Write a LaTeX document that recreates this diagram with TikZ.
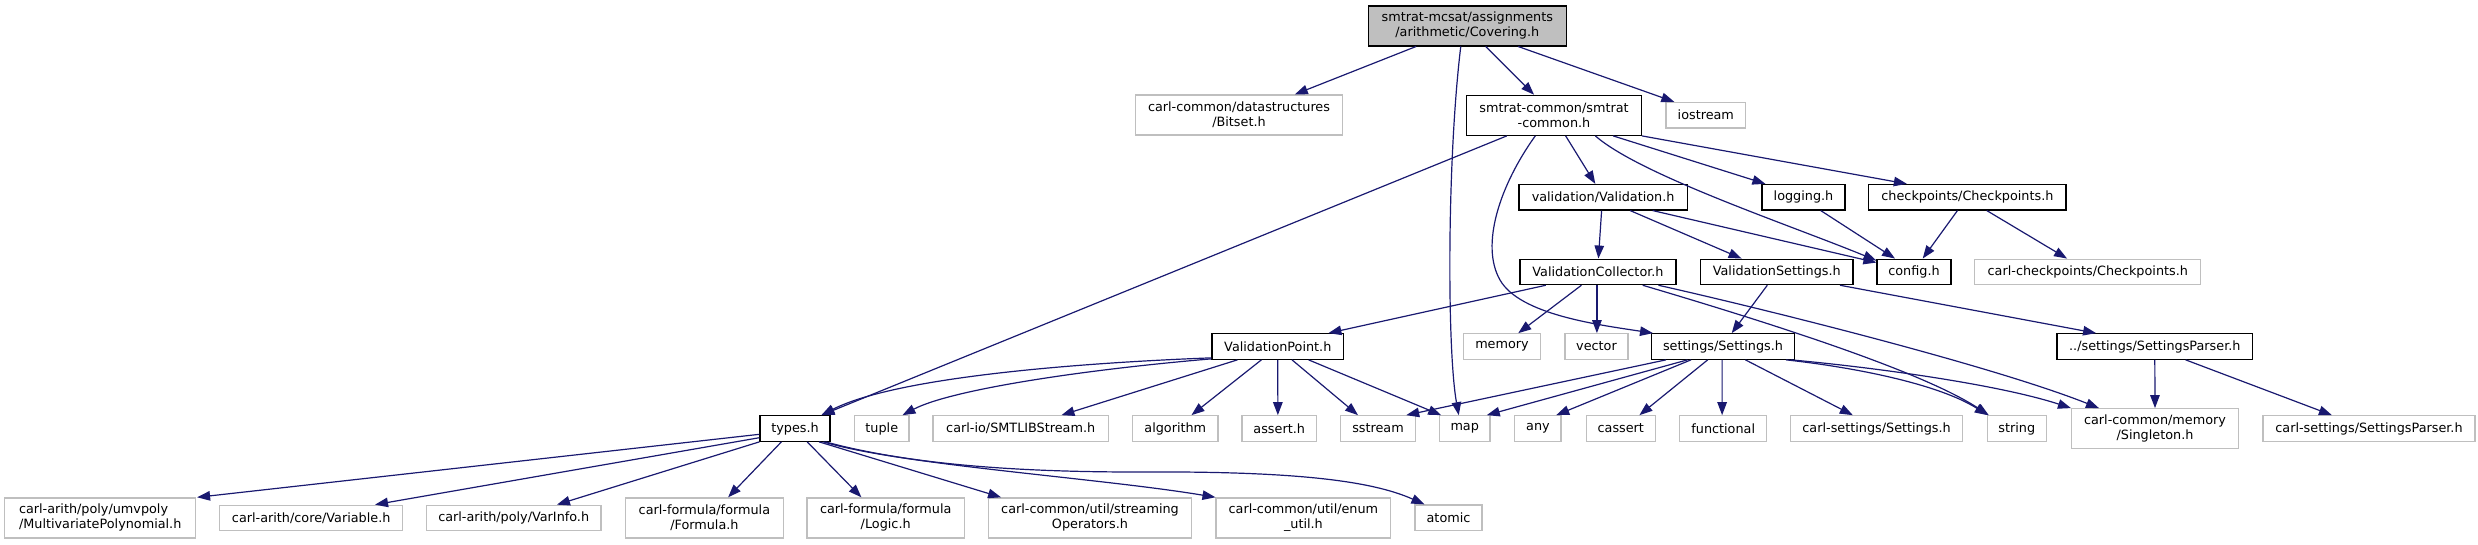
\documentclass[tikz,border=0pt]{standalone}
\usepackage{fontspec}
\newfontfamily\dxfam{DejaVu Sans}
\usetikzlibrary{arrows.meta}
\definecolor{extgray}{HTML}{BFBFBF}
\definecolor{edgeblue}{HTML}{191970}
\tikzset{
  box/.style={draw=black, line width=1.2pt, inner sep=0pt, minimum height=25.5pt, align=center,
    font={\dxfam\fontsize{12.8pt}{15pt}\selectfont}},
  extbox/.style={box, draw=extgray},
  mainbox/.style={box, fill=extgray},
  dbl/.style={minimum height=40pt},
  dep/.style={draw=edgeblue, line width=1.2pt, -{Triangle[length=13pt,width=9.5pt]}},
}
\begin{document}
\begin{tikzpicture}[x=1pt,y=-1pt]
\useasboundingbox (0,0) rectangle (2478,544);
% row 0
\node[mainbox, dbl, minimum width=197.7pt] (cov) at (1467.3,25.9) {smtrat-mcsat/assignments\\/arithmetic/Covering.h};
% row 1
\node[extbox, dbl, minimum width=206.8pt] (bitset) at (1239,115) {carl-common/datastructures\\/Bitset.h};
\node[box, dbl, minimum width=174.7pt] (sc) at (1554,115.3) {smtrat-common/smtrat\\-common.h};
\node[extbox, minimum width=79.8pt] (iostream) at (1705.8,115.2) {iostream};
% row 2
\node[box, minimum width=168.2pt] (val) at (1603.1,197.2) {validation/Validation.h};
\node[box, minimum width=83pt] (logging) at (1803.5,197.2) {logging.h};
\node[box, minimum width=197.3pt] (checkp) at (1967.4,197.2) {checkpoints/Checkpoints.h};
% row 3
\node[box, minimum width=156pt] (vc) at (1598,271.9) {ValidationCollector.h};
\node[box, minimum width=152.4pt] (vs) at (1776.8,271.9) {ValidationSettings.h};
\node[box, minimum width=74pt] (config) at (1914,271.9) {config.h};
\node[extbox, minimum width=226.1pt] (carlcp) at (2087.8,271.9) {carl-checkpoints/Checkpoints.h};
% row 4
\node[box, minimum width=131.6pt] (vp) at (1277.8,346.5) {ValidationPoint.h};
\node[extbox, minimum width=77.1pt] (memory) at (1502,346.5) {memory};
\node[extbox, minimum width=63pt] (vector) at (1596.5,346.5) {vector};
\node[box, minimum width=142.8pt] (settings) at (1723,346.5) {settings/Settings.h};
\node[box, minimum width=195.6pt] (sparser) at (2154.8,346.5) {../settings/SettingsParser.h};
% row 5
\node[box, minimum width=70pt] (types) at (795,428.5) {types.h};
\node[extbox, minimum width=54.5pt] (tuple) at (881.8,428.5) {tuple};
\node[extbox, minimum width=175.3pt] (smtlib) at (1020.7,428.5) {carl-io/SMTLIBStream.h};
\node[extbox, minimum width=85.5pt] (algorithm) at (1175.3,428.5) {algorithm};
\node[extbox, minimum width=74.3pt] (assert) at (1279.2,428.5) {assert.h};
\node[extbox, minimum width=74.4pt] (sstream) at (1378,428.5) {sstream};
\node[extbox, minimum width=50.7pt] (map) at (1464.7,428.5) {map};
\node[extbox, minimum width=46.2pt] (any) at (1537.9,428.5) {any};
\node[extbox, minimum width=68.8pt] (cassert) at (1620.8,428.5) {cassert};
\node[extbox, minimum width=87pt] (functional) at (1723.2,428.5) {functional};
\node[extbox, minimum width=172.4pt] (carlsettings) at (1876.6,428.5) {carl-settings/Settings.h};
\node[extbox, minimum width=58.9pt] (string) at (2016.8,428.5) {string};
\node[extbox, dbl, minimum width=166.9pt] (singleton) at (2155,428.7) {carl-common/memory\\/Singleton.h};
\node[extbox, minimum width=212pt] (carlsp) at (2369,428.5) {carl-settings/SettingsParser.h};
% row 6
\node[extbox, dbl, minimum width=191pt, align=left] (umv) at (100.2,517.9) {carl-arith/poly/umvpoly\\/MultivariatePolynomial.h};
\node[extbox, minimum width=182.7pt] (variable) at (311.2,518) {carl-arith/core/Variable.h};
\node[extbox, minimum width=174.7pt] (varinfo) at (513.7,518) {carl-arith/poly/VarInfo.h};
\node[extbox, dbl, minimum width=157.8pt] (formula) at (704.4,517.9) {carl-formula/formula\\/Formula.h};
\node[extbox, dbl, minimum width=157.4pt] (logic) at (885.7,517.9) {carl-formula/formula\\/Logic.h};
\node[extbox, dbl, minimum width=202.9pt] (streamop) at (1090,517.9) {carl-common/util/streaming\\Operators.h};
\node[extbox, dbl, minimum width=174.7pt] (enumu) at (1303.4,517.9) {carl-common/util/enum\\\_util.h};
\node[extbox, minimum width=67pt] (atomic) at (1448.5,517.7) {atomic};

% edges from Covering.h
\draw[dep] ([xshift=48.2pt]cov.south west) -- ([xshift=159.8pt]bitset.north west);
\draw[dep] ([xshift=92.9pt]cov.south west) .. controls (1447,160) and (1447,350) .. ([xshift=20pt]map.north west);
\draw[dep] ([xshift=117.8pt]cov.south west) -- ([xshift=68pt]sc.north west);
\draw[dep] ([xshift=150.3pt]cov.south west) -- ([xshift=9pt]iostream.north west);
% edges from smtrat-common.h
\draw[dep] ([xshift=40.7pt]sc.south west) -- ([xshift=62pt]types.north west);
\draw[dep] ([xshift=69.2pt]sc.south west) .. controls (1500,185) and (1480,245) .. (1500,280) .. controls (1520,315) and (1600,325) .. ([xshift=2pt]settings.north west);
\draw[dep] ([xshift=99.6pt]sc.south west) -- ([xshift=76.9pt]val.north west);
\draw[dep] ([xshift=129.3pt]sc.south west) .. controls (1640,175) and (1790,225) .. ([yshift=-2pt]config.north west);
\draw[dep] ([xshift=147.1pt]sc.south west) -- ([xshift=4pt]logging.north west);
\draw[dep] (sc.south east) -- ([xshift=38.7pt]checkp.north west);
% edges from Validation.h
\draw[dep] ([xshift=83.2pt]val.south west) -- ([xshift=79pt]vc.north west);
\draw[dep] ([xshift=111.7pt]val.south west) -- ([xshift=41.6pt]vs.north west);
\draw[dep] ([xshift=134.2pt]val.south west) -- ([yshift=-4pt]config.north west);
% logging, checkpoints
\draw[dep] ([xshift=59.3pt]logging.south west) -- ([xshift=18.6pt]config.north west);
\draw[dep] ([xshift=89.3pt]checkp.south west) -- ([xshift=46.3pt]config.north west);
\draw[dep] ([xshift=118.6pt]checkp.south west) -- ([xshift=92.9pt]carlcp.north west);
% ValidationCollector.h
\draw[dep] ([xshift=26.4pt]vc.south west) -- ([xshift=117pt]vp.north west);
\draw[dep] ([xshift=62pt]vc.south west) -- ([xshift=55.4pt]memory.north west);
\draw[dep] ([xshift=77.5pt]vc.south west) -- ([xshift=32.5pt]vector.north west);
\draw[dep] ([xshift=123.3pt]vc.south west) .. controls (1760,320) and (1920,370) .. ([xshift=2pt]string.north west);
\draw[dep] ([xshift=139pt]vc.south west) .. controls (1760,308) and (1990,365) .. ([xshift=28pt]singleton.north west);
% ValidationSettings.h
\draw[dep] ([xshift=67.3pt]vs.south west) -- ([xshift=80.7pt]settings.north west);
\draw[dep] ([xshift=140pt]vs.south west) -- ([xshift=39.7pt]sparser.north west);
% ValidationPoint.h
\draw[dep] ([yshift=2pt]vp.south west) .. controls (1100,362) and (900,375) .. ([xshift=62pt]types.north west);
\draw[dep] ([yshift=1pt]vp.south west) .. controls (1080,370) and (950,390) .. ([xshift=48.5pt]tuple.north west);
\draw[dep] ([xshift=26pt]vp.south west) -- ([xshift=129pt]smtlib.north west);
\draw[dep] ([xshift=50pt]vp.south west) -- ([xshift=59.5pt]algorithm.north west);
\draw[dep] ([xshift=66.4pt]vp.south west) -- ([xshift=36.4pt]assert.north west);
\draw[dep] ([xshift=80.6pt]vp.south west) -- ([xshift=17.8pt]sstream.north west);
\draw[dep] ([xshift=97.2pt]vp.south west) -- ([xshift=2.4pt]map.north west);
% settings/Settings.h
\draw[dep] ([xshift=15pt]settings.south west) -- ([xshift=66pt]sstream.north west);
\draw[dep] ([xshift=36.5pt]settings.south west) -- ([xshift=48pt]map.north west);
\draw[dep] ([xshift=40pt]settings.south west) -- ([xshift=42pt]any.north west);
\draw[dep] ([xshift=56.7pt]settings.south west) -- ([xshift=53.6pt]cassert.north west);
\draw[dep] ([xshift=71.1pt]settings.south west) -- ([xshift=43pt]functional.north west);
\draw[dep] ([xshift=94.4pt]settings.south west) -- ([xshift=63pt]carlsettings.north west);
\draw[dep] ([xshift=135pt]settings.south west) .. controls (1860,368) and (1940,385) .. ([xshift=1pt]string.north west);
\draw[dep] ([xshift=140pt]settings.south west) .. controls (1880,368) and (2000,385) .. (singleton.north west);
% SettingsParser.h
\draw[dep] (sparser.south) -- (singleton.north);
\draw[dep] ([xshift=129.2pt]sparser.south west) -- ([xshift=69.5pt]carlsp.north west);
% types.h
\draw[dep] ([yshift=-5.8pt]types.west) -- ([xshift=193pt]umv.north west);
\draw[dep] ([yshift=-9.2pt]types.west) -- ([xshift=155.8pt]variable.north west);
\draw[dep] (types.south west) -- ([xshift=131.2pt]varinfo.north west);
\draw[dep] ([xshift=22pt]types.south west) -- ([xshift=103.2pt]formula.north west);
\draw[dep] ([xshift=47.8pt]types.south west) -- ([xshift=55pt]logic.north west);
\draw[dep] ([xshift=59.7pt]types.south west) -- ([xshift=13.1pt]streamop.north west);
\draw[dep] ([xshift=64pt]types.south west) .. controls (900,465) and (1100,478) .. (enumu.north west);
\draw[dep] ([xshift=66pt]types.south west) .. controls (900,462) and (1000,472) .. (1136,472) .. controls (1290,471) and (1370,480) .. ([xshift=10pt]atomic.north west);
\end{tikzpicture}
\end{document}
